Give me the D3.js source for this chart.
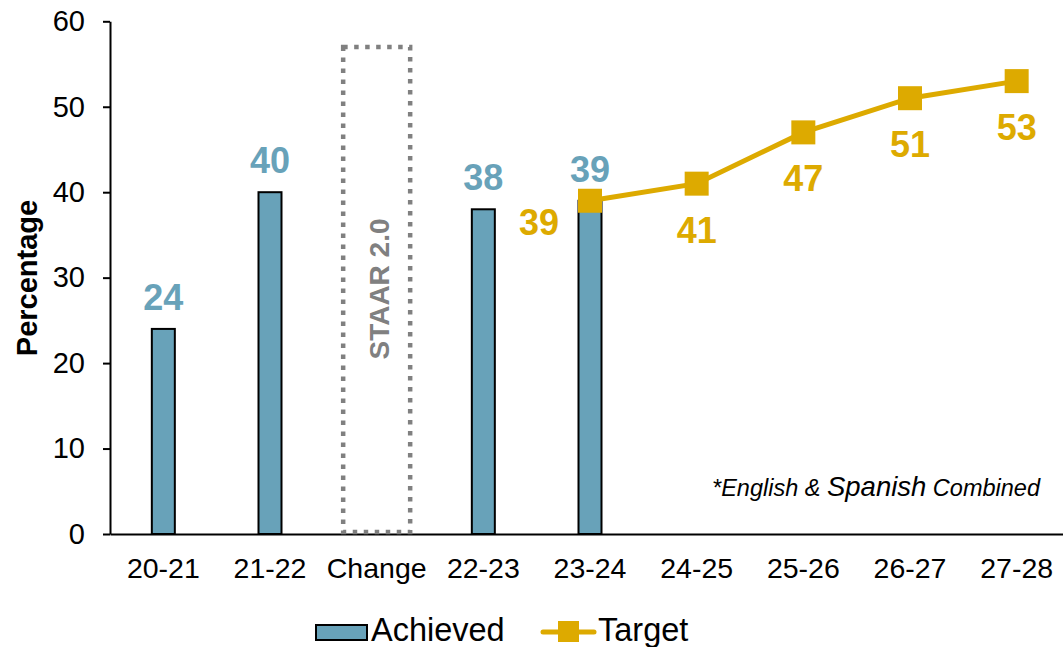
<!DOCTYPE html>
<html><head><meta charset="utf-8">
<script src="https://cdn.jsdelivr.net/npm/d3@7"></script>
<style>body{margin:0;background:#fff}svg{display:block;font-family:"Liberation Sans",Arial,sans-serif}</style>
</head><body><svg id="c" width="1063" height="647"></svg>
<script>
const categories = ["20-21","21-22","Change","22-23","23-24","24-25","25-26","26-27","27-28"];
const achievedCats = ["20-21","21-22","22-23","23-24"];
const achievedValues = [24,40,38,39];
const targetCats = ["23-24","24-25","25-26","26-27","27-28"];
const targetValues = [39,41,47,51,53];
const yTicks = [0,10,20,30,40,50,60];
const changeCat = "Change";
const changeTop = 57;
const changeText = "STAAR 2.0";

const blue = "#68a2b9", gold = "#ddaa00", gray = "#808080";
const svg = d3.select("#c");
const x = d3.scaleBand().domain(categories).range([110,1070]);
const y = d3.scaleLinear().domain([0,60]).range([534,21.3]);
const cx = c => x(c) + x.bandwidth()/2;
const FF = "Liberation Sans, Arial, sans-serif";

// y axis
const ya = svg.append("g").attr("transform","translate(110,0)")
  .call(d3.axisLeft(y).tickValues(yTicks).tickSize(7).tickPadding(18).tickSizeOuter(0));
ya.attr("font-family",FF).attr("font-size",29);
ya.select(".domain").attr("stroke","#000").attr("stroke-width",2);
ya.selectAll(".tick line").attr("stroke","#000").attr("stroke-width",2);
ya.selectAll(".tick text").attr("fill","#000");

// x axis
const xa = svg.append("g").attr("transform","translate(0,534)")
  .call(d3.axisBottom(x).tickSize(0).tickPadding(24));
xa.attr("font-family",FF).attr("font-size",28.5);
xa.select(".domain").attr("stroke","#000").attr("stroke-width",2);
xa.selectAll(".tick text").attr("fill","#000");

// y title
svg.append("text").attr("transform","translate(37,278) rotate(-90)").attr("text-anchor","middle")
  .attr("font-size",29).attr("font-weight","bold").text("Percentage");

// dotted change box
const bw = 67;
svg.append("rect").attr("x",cx(changeCat)-bw/2).attr("y",y(changeTop)).attr("width",bw)
  .attr("height",y(0)-2-y(changeTop)).attr("fill","none").attr("stroke",gray)
  .attr("stroke-width",4.5).attr("stroke-dasharray","4.5,6.5");
svg.append("text").attr("transform",`translate(${cx(changeCat)+12},289) rotate(-90)`).attr("text-anchor","middle")
  .attr("font-size",28).attr("font-weight","bold").attr("fill",gray).text(changeText);

// bars
const barW = 23;
const ach = achievedCats.map((c,i)=>({c,v:achievedValues[i]}));
svg.selectAll(".bar").data(ach).enter().append("rect")
  .attr("x",d=>cx(d.c)-barW/2).attr("y",d=>y(d.v)).attr("width",barW).attr("height",d=>y(0)-y(d.v))
  .attr("fill",blue).attr("stroke","#000").attr("stroke-width",2);
svg.selectAll(".blab").data(ach).enter().append("text")
  .attr("x",d=>cx(d.c)).attr("y",d=>y(d.v)-19).attr("text-anchor","middle")
  .attr("font-size",36).attr("font-weight","bold").attr("fill",blue).text(d=>d.v);

// target line
const tgt = targetCats.map((c,i)=>({c,v:targetValues[i]}));
svg.append("path").datum(tgt).attr("fill","none").attr("stroke",gold).attr("stroke-width",5)
  .attr("d",d3.line().x(d=>cx(d.c)).y(d=>y(d.v)));
const ms = 24;
svg.selectAll(".mk").data(tgt).enter().append("rect")
  .attr("x",d=>cx(d.c)-ms/2).attr("y",d=>y(d.v)-ms/2).attr("width",ms).attr("height",ms).attr("fill",gold);
svg.selectAll(".tlab").data(tgt).enter().append("text")
  .attr("x",(d,i)=> i===0 ? cx(d.c)-51 : cx(d.c))
  .attr("y",(d,i)=> i===0 ? y(d.v)+34 : y(d.v)+59)
  .attr("text-anchor","middle").attr("font-size",36).attr("font-weight","bold").attr("fill",gold).text(d=>d.v);

// footnote
const fn = svg.append("text").attr("x",1040).attr("y",496).attr("text-anchor","end")
  .attr("font-style","italic").attr("font-size",23.5);
fn.append("tspan").text("*English & ");
fn.append("tspan").attr("font-size",27.5).text("Spanish");
fn.append("tspan").text(" Combined");

// legend
const lg = svg.append("g");
lg.append("rect").attr("x",316).attr("y",625).attr("width",51).attr("height",15)
  .attr("fill",blue).attr("stroke","#000").attr("stroke-width",2);
lg.append("text").attr("x",371).attr("y",641).attr("font-size",32.5).text("Achieved");
lg.append("line").attr("x1",543).attr("x2",594).attr("y1",632).attr("y2",632)
  .attr("stroke",gold).attr("stroke-width",5).attr("stroke-linecap","round");
lg.append("rect").attr("x",558).attr("y",621).attr("width",21).attr("height",21).attr("fill",gold);
lg.append("text").attr("x",598).attr("y",641).attr("font-size",32.5).text("Target");
</script></body></html>
